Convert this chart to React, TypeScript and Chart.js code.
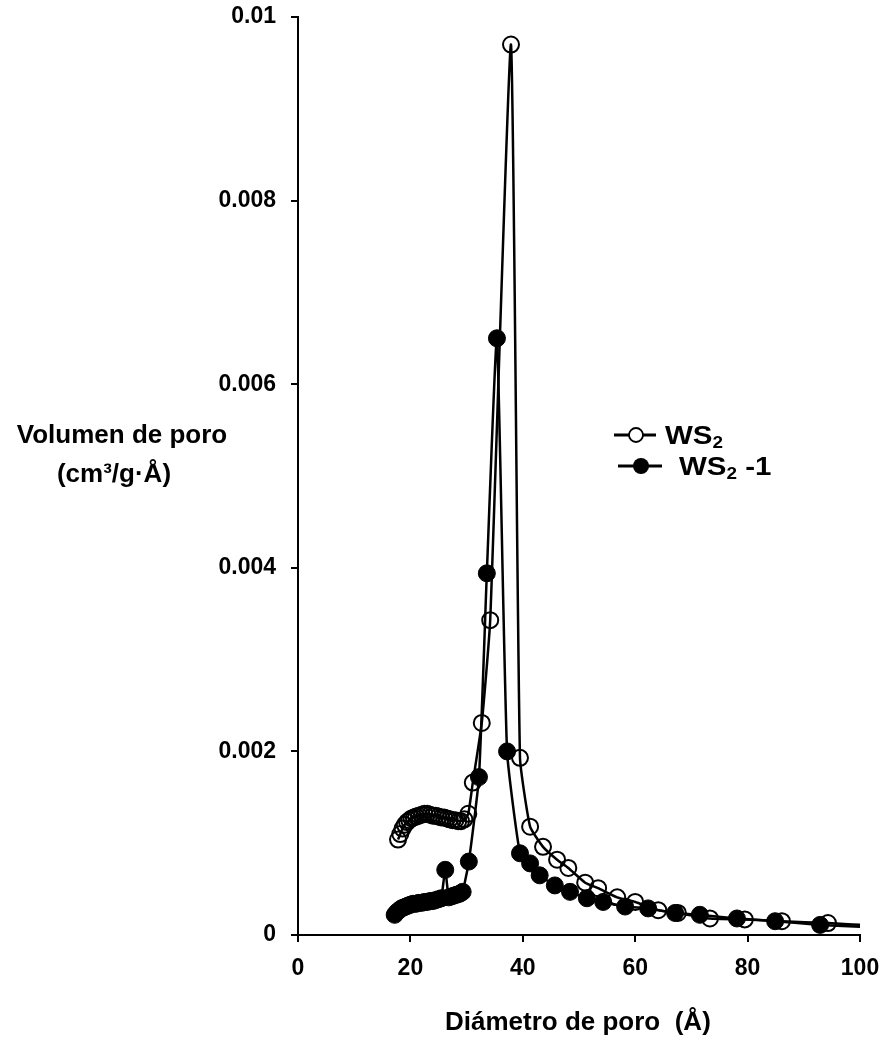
import React, { useEffect, useRef } from "react";
import { Chart, registerables } from "chart.js";

Chart.register(...registerables);

// WS2 (open circles)
const ws2X = [
  17.8, 18.2, 18.6, 19.0, 19.4, 19.8, 20.2, 20.6, 21.0, 21.5, 22.0, 22.5, 23.0, 23.5, 24.0, 24.5,
  25.0, 25.5, 26.0, 26.5, 27.0, 27.5, 28.0, 28.5, 29.0, 29.6, 30.3, 31.1, 32.7, 34.2, 37.9, 39.5,
  41.3, 43.6, 46.1, 48.1, 51.1, 53.4, 56.8, 60.0, 64.1, 67.6, 73.3, 79.5, 86.1, 94.3, 103,
];
const ws2Y = [
  0.00104, 0.0011, 0.00116, 0.0012, 0.00123, 0.00125, 0.00127, 0.00128, 0.00129, 0.0013, 0.00131,
  0.00132, 0.00132, 0.00131, 0.0013, 0.0013, 0.00129, 0.00128, 0.00128, 0.00127, 0.00126, 0.00125,
  0.00125, 0.00124, 0.00124, 0.00126, 0.00132, 0.00166, 0.00231, 0.00343, 0.0097, 0.00193, 0.00118,
  0.00096, 0.00082, 0.00073, 0.00057, 0.00051, 0.00041, 0.00036, 0.00027, 0.00024, 0.00018,
  0.00017, 0.00015, 0.00013, 0.0001,
];

// WS2-1 (filled circles)
const ws21X = [
  17.2, 17.6, 18.0, 18.4, 18.8, 19.2, 19.6, 20.0, 20.5, 21.0, 21.5, 22.0, 22.5, 23.0, 23.5, 24.0,
  24.5, 25.0, 25.5, 26.2, 26.8, 27.3, 27.8, 28.3, 28.8, 29.3, 30.4, 32.2, 33.6, 35.4, 37.2, 39.5,
  41.3, 43.0, 45.7, 48.4, 51.4, 54.3, 58.2, 62.3, 67.1, 71.5, 78.1, 84.9, 92.9, 103,
];
const ws21Y = [
  0.00022, 0.00025, 0.00027, 0.00029, 0.0003, 0.00031, 0.00032, 0.00033, 0.00034, 0.00034, 0.00035,
  0.00035, 0.00036, 0.00036, 0.00037, 0.00037, 0.00038, 0.00039, 0.0004, 0.00071, 0.00041, 0.00042,
  0.00043, 0.00044, 0.00045, 0.00047, 0.0008, 0.00172, 0.00394, 0.0065, 0.002, 0.00089, 0.00078,
  0.00065, 0.00054, 0.00047, 0.0004, 0.00036, 0.00031, 0.00029, 0.00024, 0.00022, 0.00018, 0.00015,
  0.00011, 0.00008,
];

const xTicks = [0, 20, 40, 60, 80, 100];
const yTicks = [0, 0.002, 0.004, 0.006, 0.008, 0.01];

const seriesNames = ["WS", "WS"];
const seriesSubs = ["2", "2"];
const seriesSuffix = ["", " -1"];
const yTitleLines = ["Volumen de poro", "(cm³/g·Å)"];
const xTitle = "Diámetro de poro  (Å)";

const FONT = '"Liberation Sans", Arial, Helvetica, sans-serif';

const overlayPlugin = {
  id: "overlay",
  afterDraw(chart: any) {
    const ctx = chart.ctx as CanvasRenderingContext2D;
    ctx.save();
    ctx.fillStyle = "#000";
    ctx.strokeStyle = "#000";
    ctx.font = `bold 26px ${FONT}`;
    ctx.textBaseline = "alphabetic";
    ctx.textAlign = "center";
    ctx.fillText(yTitleLines[0], 122, 443);
    ctx.fillText(yTitleLines[1], 114, 482);
    ctx.textAlign = "left";
    ctx.fillText(xTitle, 445, 1030);

    // legend
    const rows = [
      { y: 435, x1: 614, x2: 656, cx: 636, filled: false, tx: 665 },
      { y: 466, x1: 618, x2: 662, cx: 641, filled: true, tx: 679 },
    ];
    rows.forEach((r, i) => {
      ctx.lineWidth = 3;
      ctx.beginPath();
      ctx.moveTo(r.x1, r.y);
      ctx.lineTo(r.x2, r.y);
      ctx.stroke();
      ctx.beginPath();
      ctx.arc(r.cx, r.y, r.filled ? 8 : 7, 0, Math.PI * 2);
      if (r.filled) {
        ctx.fill();
      } else {
        ctx.fillStyle = "#fff";
        ctx.fill();
        ctx.fillStyle = "#000";
        ctx.lineWidth = 1.8;
        ctx.stroke();
      }
      const base = r.y + 9;
      ctx.save();
      ctx.translate(r.tx, base);
      ctx.scale(1.18, 1);
      ctx.font = `bold 25px ${FONT}`;
      ctx.fillText(seriesNames[i], 0, 0);
      let w = ctx.measureText(seriesNames[i]).width;
      ctx.font = `bold 16px ${FONT}`;
      ctx.fillText(seriesSubs[i], w, 4);
      w += ctx.measureText(seriesSubs[i]).width;
      ctx.font = `bold 25px ${FONT}`;
      ctx.fillText(seriesSuffix[i], w, 0);
      ctx.restore();
    });
    ctx.restore();
  },
};

export default function App() {
  const ref = useRef<HTMLCanvasElement | null>(null);
  useEffect(() => {
    if (!ref.current) return;
    const openData = ws2X.map((x, i) => ({ x, y: ws2Y[i] }));
    const closedData = ws21X.map((x, i) => ({ x, y: ws21Y[i] }));
    const chart = new Chart(ref.current, {
      type: "line",
      data: {
        datasets: [
          {
            label: "WS2",
            data: openData,
            borderColor: "#000",
            borderWidth: 2.5,
            pointRadius: 8,
            pointBorderWidth: 2,
            pointBorderColor: "#000",
            pointBackgroundColor: "rgba(255,255,255,0)",
            tension: 0.15,
            fill: false,
          },
          {
            label: "WS2-1",
            data: closedData,
            borderColor: "#000",
            borderWidth: 2.5,
            pointRadius: 8.5,
            pointBorderWidth: 1,
            pointBorderColor: "#000",
            pointBackgroundColor: "#000",
            tension: 0.15,
            fill: false,
          },
        ],
      },
      options: {
        responsive: false,
        animation: false,
        devicePixelRatio: 1,
        layout: { padding: { left: 0, top: 17, right: 24, bottom: 0 } },
        plugins: { legend: { display: false }, tooltip: { enabled: false } },
        events: [],
        scales: {
          x: {
            type: "linear",
            min: 0,
            max: 100,
            afterFit: (s: any) => {
              s.height = 105;
            },
            afterBuildTicks: (s: any) => {
              s.ticks = xTicks.map((v) => ({ value: v }));
            },
            ticks: {
              color: "#000",
              padding: 4,
              font: { family: FONT, size: 23, weight: "bold", lineHeight: 1.95 },
              callback: (v: any) => String(v),
              maxRotation: 0,
            },
            grid: {
              drawOnChartArea: false,
              drawTicks: true,
              tickLength: 7,
              color: "#000",
              lineWidth: 2,
            },
            border: { display: true, color: "#000", width: 2 },
          },
          y: {
            type: "linear",
            min: 0,
            max: 0.01,
            afterFit: (s: any) => {
              s.width = 298;
            },
            afterBuildTicks: (s: any) => {
              s.ticks = yTicks.map((v) => ({ value: v }));
            },
            ticks: {
              color: "#000",
              padding: 15,
              font: { family: FONT, size: 23, weight: "bold", lineHeight: 0.1 },
              callback: (v: any) => String(Number(Number(v).toFixed(4))),
            },
            grid: {
              drawOnChartArea: false,
              drawTicks: true,
              tickLength: 7,
              color: "#000",
              lineWidth: 2,
            },
            border: { display: true, color: "#000", width: 2 },
          },
        },
      },
      plugins: [overlayPlugin],
    });
    return () => chart.destroy();
  }, []);
  return (
    <canvas
      ref={ref}
      width={884}
      height={1040}
      style={{ position: "fixed", left: 0, top: 0, width: 884, height: 1040, background: "#fff" }}
    />
  );
}
